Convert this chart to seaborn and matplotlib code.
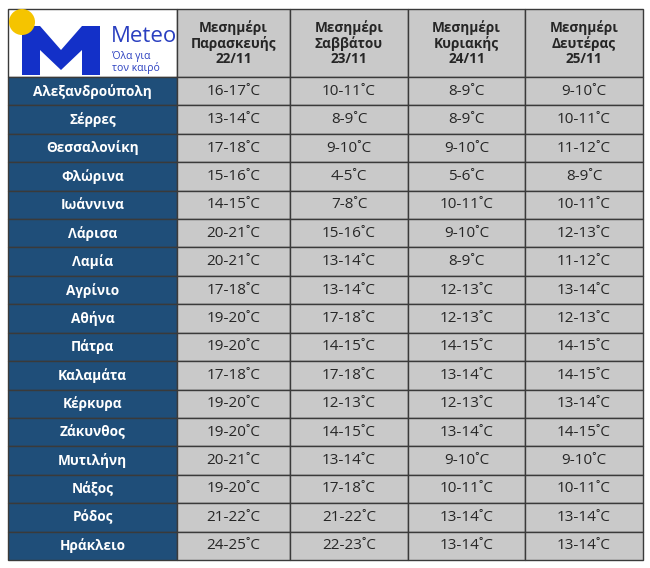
import matplotlib
matplotlib.use("Agg")
import matplotlib.pyplot as plt
from matplotlib.patches import Rectangle, Circle, Polygon
import seaborn as sns

days = ["Μεσημέρι\nΠαρασκευής\n22/11", "Μεσημέρι\nΣαββάτου\n23/11",
        "Μεσημέρι\nΚυριακής\n24/11", "Μεσημέρι\nΔευτέρας\n25/11"]
cities = ["Αλεξανδρούπολη", "Σέρρες", "Θεσσαλονίκη", "Φλώρινα", "Ιωάννινα", "Λάρισα",
          "Λαμία", "Αγρίνιο", "Αθήνα", "Πάτρα", "Καλαμάτα", "Κέρκυρα", "Ζάκυνθος",
          "Μυτιλήνη", "Νάξος", "Ρόδος", "Ηράκλειο"]
fri = ["16-17", "13-14", "17-18", "15-16", "14-15", "20-21", "20-21", "17-18", "19-20",
       "19-20", "17-18", "19-20", "19-20", "20-21", "19-20", "21-22", "24-25"]
sat = ["10-11", "8-9", "9-10", "4-5", "7-8", "15-16", "13-14", "13-14", "17-18",
       "14-15", "17-18", "12-13", "14-15", "13-14", "17-18", "21-22", "22-23"]
sun = ["8-9", "8-9", "9-10", "5-6", "10-11", "9-10", "8-9", "12-13", "12-13",
       "14-15", "13-14", "12-13", "13-14", "9-10", "10-11", "13-14", "13-14"]
mon = ["9-10", "10-11", "11-12", "8-9", "10-11", "12-13", "11-12", "13-14", "12-13",
       "14-15", "14-15", "13-14", "14-15", "9-10", "10-11", "13-14", "13-14"]

sns.set_style("white")
plt.rcParams['font.family'] = ['Open Sans', 'DejaVu Sans']

fig = plt.figure(figsize=(6.5, 5.68), dpi=100)
ax = fig.add_axes([0, 0, 1, 1])
ax.set_xlim(0, 650)
ax.set_ylim(568, 0)
ax.axis("off")

col_edges = [8, 177, 290, 408, 525, 643]
top, head_bot, bot = 9, 77, 560
row_h = (bot - head_bot) / len(cities)
grey = "#C9C9C9"
blue = "#1F4E79"
edge = "#3a3a3a"

# header
ax.add_patch(Rectangle((col_edges[0], top), col_edges[1] - col_edges[0], head_bot - top,
                       facecolor="white", edgecolor=edge, lw=1))
for j, d in enumerate(days):
    x0, x1 = col_edges[j + 1], col_edges[j + 2]
    ax.add_patch(Rectangle((x0, top), x1 - x0, head_bot - top, facecolor=grey, edgecolor=edge, lw=1))
    ax.text((x0 + x1) / 2, (top + head_bot) / 2, d, ha="center", va="center",
            fontsize=9.8, fontweight="bold", linespacing=1.1)

# logo
ax.add_patch(Polygon([(22, 75), (22, 26), (40, 26), (61, 50), (82, 26), (100, 26),
                      (100, 75), (82, 75), (82, 50), (61, 70), (40, 50), (40, 75)],
                     closed=True, facecolor="#1330c8", edgecolor="none"))
ax.add_patch(Circle((22, 22), 13, facecolor="#F5C400", edgecolor="none"))
ax.text(111, 36, "Meteo", color="#2a3fc0", fontsize=16, va="center", ha="left")
ax.text(112, 62, "Όλα για\nτον καιρό", color="#2a3fc0", fontsize=7.5, va="center", ha="left",
        linespacing=1.0)

# body
values = [fri, sat, sun, mon]
for i, c in enumerate(cities):
    y0 = head_bot + i * row_h
    ax.add_patch(Rectangle((col_edges[0], y0), col_edges[1] - col_edges[0], row_h,
                           facecolor=blue, edgecolor=edge, lw=1))
    ax.text((col_edges[0] + col_edges[1]) / 2, y0 + row_h / 2, c, color="white",
            ha="center", va="center", fontsize=9.8, fontweight="bold")
    for j, v in enumerate(values):
        x0, x1 = col_edges[j + 1], col_edges[j + 2]
        ax.add_patch(Rectangle((x0, y0), x1 - x0, row_h, facecolor=grey, edgecolor=edge, lw=1))
        ax.text((x0 + x1) / 2, y0 + row_h / 2, v[i] + "˚C", ha="center", va="center", fontsize=11)

fig.savefig("out.png", dpi=100)
